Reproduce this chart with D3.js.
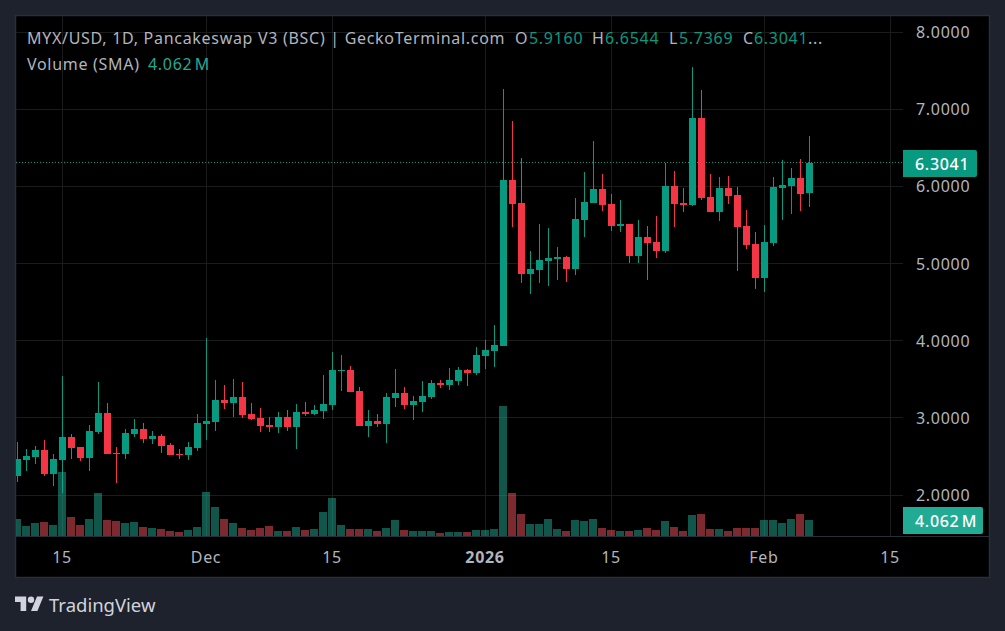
<!DOCTYPE html>
<html>
<head>
<meta charset="utf-8">
<script src="https://cdnjs.cloudflare.com/ajax/libs/d3/7.8.5/d3.min.js"></script>
<style>
html, body { margin: 0; padding: 0; background: #1e222d; overflow: hidden; }
text { font-family: "Noto Sans", sans-serif; letter-spacing: 0.7px; }
</style>
</head>
<body>
<script>
// Daily candles starting at firstDay, one entry per day
var firstDay = "2025-11-10";
var opens = [2.246,2.454,2.492,2.583,2.272,2.454,2.752,2.622,2.479,2.816,3.063,2.544,2.531,2.790,2.855,2.726,2.765,2.648,2.531,2.518,
  2.609,2.920,2.946,3.231,3.192,3.270,3.050,2.998,2.907,2.881,3.011,2.881,3.076,3.050,3.088,3.166,3.607,3.620,3.348,2.894,
  2.959,2.920,3.257,3.322,3.166,3.205,3.270,3.451,3.425,3.477,3.620,3.581,3.801,3.866,3.931,6.082,5.784,4.864,4.916,5.032,
  5.058,5.084,4.928,5.563,5.784,5.965,5.771,5.486,5.512,5.097,5.343,5.278,5.162,6.004,5.784,5.758,6.885,5.861,5.667,5.978,
  5.887,5.486,5.252,4.812,5.265,5.978,6.004,6.108,5.916];
var highs = [2.687,2.596,2.635,2.713,2.531,3.542,2.790,2.622,2.907,3.464,3.192,2.622,2.855,2.985,2.933,2.829,2.790,2.674,2.596,2.687,
  3.050,4.034,3.490,3.425,3.503,3.464,3.192,3.127,3.011,3.076,3.101,3.179,3.205,3.166,3.555,3.853,3.814,3.672,3.399,3.101,
  3.050,3.322,3.633,3.399,3.283,3.477,3.490,3.490,3.646,3.659,3.633,3.918,4.008,4.203,7.261,6.846,6.367,5.162,5.512,5.460,
  5.214,5.097,5.849,6.185,6.587,6.160,5.900,5.823,5.512,5.563,5.486,5.615,6.302,6.198,5.978,7.546,7.248,6.160,6.121,6.134,
  5.991,5.693,5.408,5.499,6.121,6.341,6.237,6.354,6.6544];
var lows = [2.168,2.311,2.402,2.246,2.117,2.026,2.466,2.441,2.311,2.790,2.531,2.155,2.466,2.752,2.674,2.661,2.544,2.518,2.466,2.454,
  2.570,2.713,2.829,3.114,3.011,2.998,2.972,2.816,2.816,2.803,2.829,2.596,3.024,3.037,2.985,3.101,3.348,3.335,2.894,2.752,
  2.881,2.674,3.140,3.114,2.972,3.076,3.244,3.387,3.361,3.425,3.412,3.555,3.633,3.659,3.931,5.473,4.747,4.605,4.747,4.708,
  4.786,4.760,4.851,5.343,5.784,5.680,5.421,5.408,5.006,5.006,4.786,5.071,5.136,5.473,5.667,5.745,5.823,5.667,5.550,5.771,
  4.903,5.188,4.669,4.630,5.227,5.563,5.641,5.680,5.7369];
var closes = [2.466,2.505,2.583,2.272,2.466,2.752,2.609,2.479,2.829,3.063,2.531,2.531,2.803,2.855,2.726,2.765,2.635,2.518,2.518,2.622,
  2.933,2.959,3.231,3.192,3.270,3.037,2.985,2.894,2.881,3.011,2.881,3.076,3.050,3.101,3.179,3.620,3.620,3.335,2.894,2.959,
  2.920,3.270,3.322,3.166,3.218,3.283,3.451,3.425,3.490,3.620,3.581,3.814,3.879,3.944,6.082,5.771,4.864,4.928,5.045,5.071,
  5.084,4.928,5.576,5.797,5.965,5.758,5.486,5.512,5.097,5.343,5.265,5.162,6.004,5.771,5.758,6.885,5.849,5.667,5.978,5.874,
  5.473,5.240,4.812,5.278,5.991,6.017,6.108,5.900,6.3041];
// Volume in millions
var volumes = [4.32,2.54,3.30,3.56,2.79,16.26,4.83,2.79,4.32,10.92,4.06,3.81,3.30,3.56,2.29,2.03,1.78,1.27,1.02,1.52,
  2.29,11.18,7.37,4.32,3.30,2.03,1.52,2.03,2.54,1.27,1.27,2.29,1.52,1.78,6.10,9.65,2.79,1.78,1.78,1.78,
  1.27,2.03,4.06,1.52,1.27,1.27,1.27,0.76,1.02,1.02,1.02,1.52,1.52,1.78,33.02,10.92,5.59,3.05,3.05,4.32,
  1.78,1.27,4.06,3.81,4.32,2.03,1.52,1.27,1.27,1.52,2.03,1.52,3.81,2.29,1.27,5.33,5.59,1.78,1.78,1.27,
  2.03,2.03,2.03,4.06,4.06,3.30,4.32,5.59,4.06];

var priceTicks = [2, 3, 4, 5, 6, 7, 8];
var timeTicks = ["2025-11-15", "2025-12-01", "2025-12-15", "2026-01-01", "2026-01-15", "2026-02-01", "2026-02-15"];
var timeLabels = ["15", "Dec", "15", "2026", "15", "Feb", "15"];
var lastPrice = 6.3041;
var lastVolume = "4.062\u200aM";
var legendTitle = "MYX/USD, 1D, Pancakeswap V3 (BSC) | GeckoTerminal.com";
var legendOhlc = [["O", "5.9160", 515, 529], ["H", "6.6544", 592, 605], ["L", "5.7369", 669, 679], ["C", "6.3041", 743, 754]];

var GREEN = "#089981", RED = "#f23645", VOL_GREEN = "#22ab94", VOL_RED = "#f7525f";
var GRID = "#1b1b1b", BORDER = "#2a2e39", TEXT = "#b2b5be";
var FONT = 16;

var svg = d3.select("body").append("svg")
    .attr("width", 1005)
    .attr("height", 631)
    .style("display", "block");

svg.append("rect").attr("width", 1005).attr("height", 631).attr("fill", "#1e222d");
svg.append("rect")
    .attr("x", 15.5).attr("y", 15.5).attr("width", 974).attr("height", 562)
    .attr("fill", "#000").attr("stroke", BORDER).attr("stroke-width", 1.5);

var parseDay = d3.utcParse("%Y-%m-%d");
var day0 = parseDay(firstDay);
var days = opens.map(function(d, i) { return d3.utcDay.offset(day0, i); });

var x = d3.scaleUtc()
    .domain([day0, parseDay("2026-02-15")])
    .range([17.5, 890.5]);
var y = d3.scaleLinear().domain([2, 8]).range([495, 32]);
var vol = d3.scaleLinear().domain([0, d3.max(volumes)]).range([536, 406]);
var timeDates = timeTicks.map(parseDay);

svg.append("clipPath").attr("id", "plot")
    .append("rect").attr("x", 16).attr("y", 16).attr("width", 887).attr("height", 520);

// Grid
var grid = svg.append("g").attr("stroke", GRID).attr("shape-rendering", "crispEdges");
grid.selectAll("line.h").data(priceTicks).enter().append("line")
    .attr("x1", 16).attr("x2", 903)
    .attr("y1", function(d) { return Math.floor(y(d)) + 0.5; })
    .attr("y2", function(d) { return Math.floor(y(d)) + 0.5; });
grid.selectAll("line.v").data(timeDates).enter().append("line")
    .attr("y1", 16).attr("y2", 536)
    .attr("x1", function(d) { return Math.floor(x(d)) + 0.5; })
    .attr("x2", function(d) { return Math.floor(x(d)) + 0.5; });

// Last price line
svg.append("line")
    .attr("x1", 16).attr("x2", 903)
    .attr("y1", Math.floor(y(lastPrice)) + 0.5).attr("y2", Math.floor(y(lastPrice)) + 0.5)
    .attr("stroke", GREEN).attr("stroke-dasharray", "1 2")
    .attr("shape-rendering", "crispEdges");

// Candles
var plot = svg.append("g").attr("clip-path", "url(#plot)").attr("shape-rendering", "crispEdges");
var candles = plot.selectAll("g.candle").data(days).enter().append("g").attr("class", "candle");
function candleColor(d, i) { return closes[i] >= opens[i] ? GREEN : RED; }
candles.append("rect")
    .attr("x", function(d) { return Math.floor(x(d)); })
    .attr("width", 1)
    .attr("y", function(d, i) { return Math.round(y(highs[i])); })
    .attr("height", function(d, i) { return Math.round(y(lows[i])) - Math.round(y(highs[i])); })
    .attr("fill", candleColor);
candles.append("rect")
    .attr("x", function(d) { return Math.floor(x(d)) - 3; })
    .attr("width", 7)
    .attr("y", function(d, i) { return Math.round(y(Math.max(opens[i], closes[i]))); })
    .attr("height", function(d, i) {
        return Math.max(1, Math.round(y(Math.min(opens[i], closes[i]))) - Math.round(y(Math.max(opens[i], closes[i]))));
    })
    .attr("fill", candleColor);

// Volume, drawn over the candles with alpha
plot.selectAll("rect.vol").data(days).enter().append("rect")
    .attr("class", "vol")
    .attr("x", function(d) { return Math.floor(x(d)) - 4; })
    .attr("width", 8)
    .attr("y", function(d, i) { return Math.round(vol(volumes[i])); })
    .attr("height", function(d, i) { return 536 - Math.round(vol(volumes[i])); })
    .attr("fill", function(d, i) { return closes[i] >= opens[i] ? VOL_GREEN : VOL_RED; })
    .attr("fill-opacity", 0.5);

// Pane separator
svg.append("line").attr("x1", 16).attr("x2", 989).attr("y1", 536.5).attr("y2", 536.5).attr("stroke", BORDER);

// Axes
var priceAxis = d3.axisRight(y).tickValues(priceTicks).tickFormat(d3.format(".4f")).tickSize(0).tickPadding(13);
var gPrice = svg.append("g").attr("transform", "translate(903,0.5)").call(priceAxis);
gPrice.select(".domain").remove();
gPrice.selectAll("text").attr("fill", TEXT).style("font-size", FONT + "px").style("font-family", '"Noto Sans", sans-serif');

var timeAxis = d3.axisBottom(x).tickValues(timeDates)
    .tickFormat(function(d, i) { return timeLabels[i]; }).tickSize(0).tickPadding(15);
var gTime = svg.append("g").attr("transform", "translate(-1,537)").call(timeAxis);
gTime.select(".domain").remove();
gTime.selectAll("text").attr("fill", TEXT).style("font-size", FONT + "px").style("font-family", '"Noto Sans", sans-serif')
    .style("font-weight", function(d, i) { return timeLabels[i] === "2026" ? 700 : 400; });

// Price and volume tags
function drawTag(tagY, width, height, fill, label) {
    svg.append("path")
        .attr("d", "M903 " + tagY + "h" + (width - 2) + "q2 0 2 2v" + (height - 4) + "q0 2 -2 2h-" + (width - 2) + "z")
        .attr("fill", fill);
    svg.append("text")
        .attr("x", 915).attr("y", tagY + height / 2 + 6)
        .attr("fill", "#fff").attr("font-size", FONT).attr("font-weight", 500)
        .text(label);
}
drawTag(150, 74, 27, GREEN, d3.format(".4f")(lastPrice));
drawTag(507, 80, 27, VOL_GREEN, lastVolume);

// Legend
var legend = svg.append("g").attr("font-size", FONT).attr("fill", TEXT);
legend.append("text").attr("x", 27).attr("y", 44).text(legendTitle);
legendOhlc.forEach(function(d) {
    legend.append("text").attr("x", d[2]).attr("y", 44).text(d[0]);
    legend.append("text").attr("x", d[3]).attr("y", 44).attr("fill", GREEN).text(d[1]);
});
legend.append("text").attr("x", 808).attr("y", 44).text("...");
legend.append("text").attr("x", 27).attr("y", 69.5).text("Volume (SMA)");
legend.append("text").attr("x", 148).attr("y", 69.5).attr("fill", VOL_GREEN).text(lastVolume);

// TradingView mark
var logo = svg.append("g").attr("transform", "translate(15,593.3) scale(0.8)").attr("fill", "#d1d4dc");
logo.append("path").attr("d", "M14 22H7V11H0V4h14v18zM28 22h-8l7.5-18h8L28 22z");
logo.append("circle").attr("cx", 20).attr("cy", 8).attr("r", 4);
svg.append("text").attr("x", 49).attr("y", 612).attr("fill", "#d1d4dc").attr("font-size", 18.5)
    .style("letter-spacing", "0").text("TradingView");
</script>
</body>
</html>
